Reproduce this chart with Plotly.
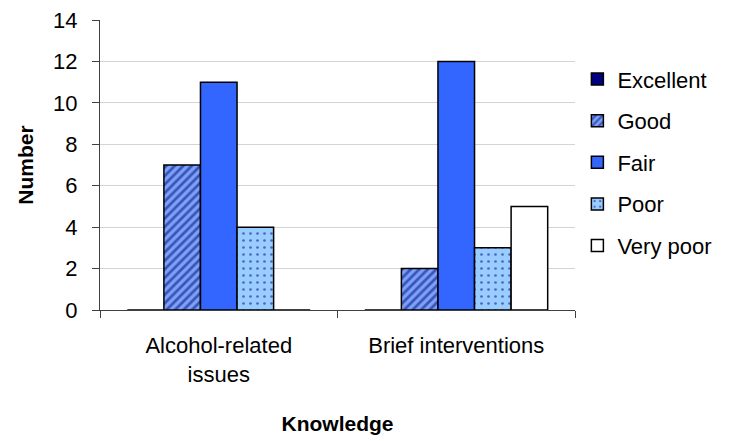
import plotly.graph_objects as go

categories = ["Alcohol-related<br>issues", "Brief interventions"]
ratings = ["Excellent", "Good", "Fair", "Poor", "Very poor"]
excellent = [0, 0]
good = [7, 2]
fair = [11, 12]
poor = [4, 3]
very_poor = [0, 5]
y_ticks = [0, 2, 4, 6, 8, 10, 12, 14]

series = [excellent, good, fair, poor, very_poor]
styles = [
    dict(color="#000080"),
    dict(color="#7aa3f5", pattern=dict(shape="/", fgcolor="#000080", size=6, solidity=0.45)),
    dict(color="#3366ff"),
    dict(color="#99ccff", pattern=dict(shape=".", fgcolor="#000080", size=7, solidity=0.12)),
    dict(color="#ffffff"),
]

fig = go.Figure()
for name, vals, st in zip(ratings, series, styles):
    fig.add_trace(go.Bar(
        x=categories, y=vals, name=name, legendgroup=name,
        marker=dict(**st, line=dict(color="#000000", width=1.5)),
    ))

font = "Liberation Sans, Arial, sans-serif"
fig.update_layout(
    width=738, height=441,
    margin=dict(l=100, r=163, t=20, b=131),
    paper_bgcolor="white", plot_bgcolor="white",
    barmode="group", bargap=0.23, bargroupgap=0,
    font=dict(family=font, size=22, color="#000000"),
    showlegend=True,
    legend=dict(x=1.005, y=0.868, xanchor="left", yanchor="top",
                font=dict(family=font, size=22), tracegroupgap=10,
                traceorder="grouped"),
    xaxis=dict(
        title=dict(text="<b>Knowledge</b>", font=dict(family=font, size=21), standoff=30),
        showline=True, linecolor="#404040", linewidth=1,
        ticks="outside", ticklen=7, tickcolor="#404040", tickson="boundaries",
        tickfont=dict(family=font, size=22), ticklabelstandoff=16,
        automargin=False,
    ),
    yaxis=dict(
        title=dict(text="<b>Number</b>", font=dict(family=font, size=21), standoff=13),
        range=[0, 14], tickvals=y_ticks,
        showline=True, linecolor="#404040", linewidth=1,
        ticks="outside", ticklen=7, tickcolor="#404040",
        showgrid=True, gridcolor="#d4d4d4", gridwidth=1,
        zeroline=False, tickfont=dict(family=font, size=22), ticklabelstandoff=10,
        automargin=False,
    ),
)

fig.write_html("out.html")
